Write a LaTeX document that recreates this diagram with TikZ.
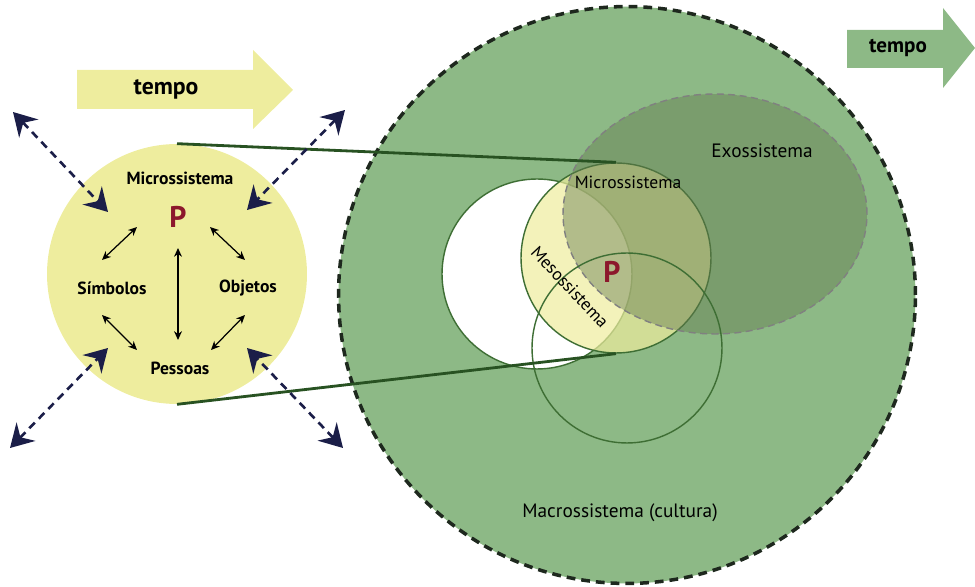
\documentclass[tikz,border=0pt]{standalone}
\usepackage{fontspec}
\setmainfont{PT Sans}
\usetikzlibrary{arrows.meta,shapes.geometric}
\definecolor{amarelo}{RGB}{238,237,158}
\definecolor{verde}{RGB}{141,185,134}
\definecolor{verdeexo}{RGB}{101,123,80}
\definecolor{contorno}{RGB}{62,110,52}
\definecolor{linha}{RGB}{40,82,34}
\definecolor{azul}{RGB}{27,30,72}
\definecolor{vinho}{RGB}{140,24,44}
\definecolor{borda}{RGB}{30,40,30}
\def\seta#1#2{
	\draw[<->,>={Stealth[length=5pt,width=4.5pt]},line width=0.7pt] #1 -- #2;
}
\def\tracejada#1#2{
	\draw[azul,<->,>={Stealth[length=13pt,width=15pt,inset=4.5pt]},line width=1.5pt,dash pattern=on 4.5pt off 3.2pt] #1 -- #2;
}
\tikzset{
	circulo/.style={circle,inner sep=0pt,minimum size=3.8cm,draw=contorno,line width=0.8pt},
	rotulo/.style={font=\bfseries\fontsize{10}{12}\selectfont},
	letra/.style={text=vinho,font=\bfseries\fontsize{17}{20}\selectfont},
}

\begin{document}
\begin{tikzpicture}[x=0.02cm,y=-0.02cm]
\useasboundingbox (0,0) rectangle (975,587);
% macrossistema
\node[circle,inner sep=0pt,minimum size=11.54cm,fill=verde,draw=borda,line width=2pt,dash pattern=on 5pt off 3.4pt] (macro) at (627,295) {};
\node[circulo,fill=white] (branco) at (537,274) {};
\node[circulo,fill=amarelo,fill opacity=0.7] (micro) at (616,258) {};
\node[ellipse,inner sep=0pt,minimum width=6.08cm,minimum height=4.8cm,fill=verdeexo,fill opacity=0.45,draw=gray,dash pattern=on 4pt off 2.5pt,line width=0.8pt] (exo) at (715,214) {};
\node[circulo] (baixo) at (627,348) {};
% microssistema ampliado
\node[circle,inner sep=0pt,minimum size=5.2cm,fill=amarelo] (yel) at (177,274) {};
\draw[linha,line width=1.6pt] (yel.north) -- (micro.north);
\draw[linha,line width=1.6pt] (yel.south) -- (micro.south);
% setas de tempo
\fill[amarelo] (77,70) -- (253,70) -- (253,50) -- (293,90) -- (253,129) -- (253,109) -- (77,109) -- cycle;
\fill[verde] (847,30) -- (943,30) -- (943,8) -- (975,48) -- (943,88) -- (943,68) -- (847,68) -- cycle;
\node[font=\bfseries\fontsize{13.5}{15}\selectfont] (tempo1) at (166,89) {tempo};
\node[font=\bfseries\fontsize{12}{14}\selectfont] (tempo2) at (898,48) {tempo};
% textos
\node[rotulo] (mic) at (180,178) {Microssistema};
\node[letra] (p1) at (178,217) {P};
\node[rotulo] (simb) at (112,288) {Símbolos};
\node[rotulo] (obj) at (248,288) {Objetos};
\node[rotulo] (pes) at (180,368) {Pessoas};
\node[font=\fontsize{10}{12}\selectfont] (mic2) at (628,182) {Microssistema};
\node[letra] (p2) at (612,272) {P};
\node[font=\fontsize{10}{12}\selectfont,rotate=-47,inner sep=0pt] (meso) at (570,287) {Mesossistema};
\node[font=\fontsize{11}{13}\selectfont] (exot) at (762,151) {Exossistema};
\node[font=\fontsize{11}{13}\selectfont] (mact) at (620,513) {Macrossistema (cultura)};
% setas
\coordinate (ps1) at (137,227);
\coordinate (ps2) at (102,260);
\coordinate (po1) at (210,227);
\coordinate (po2) at (245,260);
\coordinate (pp1) at (178,248);
\coordinate (pp2) at (178,340);
\coordinate (sp1) at (102,315);
\coordinate (sp2) at (137,350);
\coordinate (op1) at (245,315);
\coordinate (op2) at (211,350);
\seta{(ps1)}{(ps2)}
\seta{(po1)}{(po2)}
\seta{(pp1)}{(pp2)}
\seta{(sp1)}{(sp2)}
\seta{(op1)}{(op2)}
\coordinate (d1a) at (13,112);
\coordinate (d1b) at (108,212);
\coordinate (d2a) at (345,110);
\coordinate (d2b) at (247,210);
\coordinate (d3a) at (10,448);
\coordinate (d3b) at (108,348);
\coordinate (d4a) at (343,448);
\coordinate (d4b) at (247,348);
\tracejada{(d1a)}{(d1b)}
\tracejada{(d2a)}{(d2b)}
\tracejada{(d3a)}{(d3b)}
\tracejada{(d4a)}{(d4b)}
\end{tikzpicture}
\end{document}
